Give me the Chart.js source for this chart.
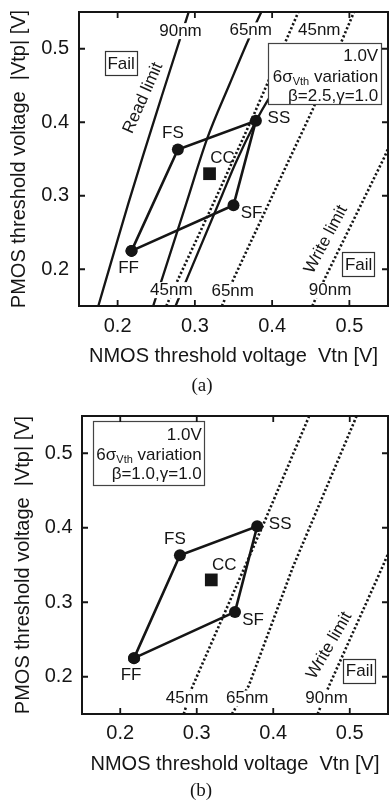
<!DOCTYPE html>
<html>
<head>
<meta charset="utf-8">
<script src="https://cdn.jsdelivr.net/npm/chart.js@4.4.0/dist/chart.umd.min.js"></script>
<style>
  html, body { margin: 0; padding: 0; background: #fff; }
  .panel { position: absolute; left: 0; width: 389px; }
  #panelA { top: 0; height: 400px; }
  #panelB { top: 400px; height: 404px; }
</style>
</head>
<body>
<div class="panel" id="panelA"><canvas id="chartA"></canvas></div>
<div class="panel" id="panelB"><canvas id="chartB"></canvas></div>
<script>
// process corners FF, FS, SS, SF (closed back to FF)
const cornerVtn = [0.218, 0.278, 0.379, 0.350, 0.218];
const cornerVtp = [0.225, 0.363, 0.402, 0.287, 0.225];
const cornerNames = ['FF', 'FS', 'SS', 'SF'];
const centerVtn = [0.319];
const centerVtp = [0.330];

// read limit, beta = 2.5
const read90Vtn = [0.175, 0.195, 0.214, 0.233, 0.257, 0.281, 0.292];
const read90Vtp = [0.150, 0.222, 0.290, 0.355, 0.435, 0.514, 0.550];
const read65Vtn = [0.246, 0.2575, 0.289, 0.316, 0.345, 0.370, 0.386];
const read65Vtp = [0.150, 0.187, 0.290, 0.378, 0.452, 0.514, 0.550];
const read45Vtn = [0.275, 0.290, 0.3353, 0.3529, 0.3788, 0.3939, 0.415, 0.435];
const read45Vtp = [0.150, 0.1876, 0.301, 0.345, 0.401, 0.429, 0.462, 0.490];

// write limit, beta = 2.5
const writeA45Vtn = [0.263, 0.279, 0.329, 0.377, 0.434];
const writeA45Vtp = [0.150, 0.188, 0.301, 0.412, 0.550];
const writeA65Vtn = [0.335, 0.351, 0.422, 0.452, 0.506];
const writeA65Vtp = [0.150, 0.189, 0.349, 0.416, 0.550];
const writeA90Vtn = [0.452, 0.468, 0.546, 0.550];
const writeA90Vtp = [0.150, 0.187, 0.354, 0.364];

// write limit, beta = 1.0
const writeB45Vtn = [0.283, 0.294, 0.386, 0.447];
const writeB45Vtp = [0.150, 0.186, 0.402, 0.550];
const writeB65Vtn = [0.346, 0.368, 0.426, 0.509];
const writeB65Vtp = [0.150, 0.188, 0.348, 0.550];
const writeB90Vtn = [0.458, 0.473, 0.543, 0.550];
const writeB90Vtp = [0.150, 0.188, 0.348, 0.365];

const FONT = "'Liberation Sans', Arial, sans-serif";
const SERIF = "'Liberation Serif', 'Times New Roman', serif";
const INK = '#151515';

function xy(xs, ys) {
  return xs.map((x, i) => ({ x, y: ys[i] }));
}

// only every other tick (0.2, 0.3, ...) carries a number
function tickText(v) {
  return Math.round(v * 100) % 10 === 0 ? v.toFixed(1) : null;
}

const decor = {
  id: 'decor',
  afterDatasetsDraw(chart, args, o) {
    const { ctx, chartArea: a } = chart;
    const sx = chart.scales.x, sy = chart.scales.y;
    const px = v => sx.getPixelForValue(v);
    const py = v => sy.getPixelForValue(v);

    ctx.save();
    ctx.beginPath();
    ctx.rect(a.left, a.top, a.width, a.height);
    ctx.clip();
    ctx.textAlign = 'center';
    ctx.textBaseline = 'middle';
    ctx.font = `17px ${FONT}`;

    // node sizes at the ends of the limit lines, on a white patch
    o.sizes.forEach(t => {
      const w = ctx.measureText(t.text).width;
      const cx = px(t.x), cy = py(t.y);
      ctx.fillStyle = '#fff';
      ctx.fillRect(cx - w / 2 - 1, cy - 8, w + 2, 16);
      ctx.fillStyle = INK;
      ctx.fillText(t.text, cx, cy);
    });

    // slanted captions beside the limits
    o.captions.forEach(c => {
      ctx.save();
      ctx.translate(px(c.x), py(c.y));
      ctx.rotate(c.angle * Math.PI / 180);
      ctx.fillStyle = INK;
      ctx.fillText(c.text, 0, 0);
      ctx.restore();
    });

    // boxed "Fail" regions
    o.fails.forEach(f => {
      const w = ctx.measureText('Fail').width + 5;
      const h = 24;
      const cx = px(f.x), cy = py(f.y);
      ctx.fillStyle = '#fff';
      ctx.fillRect(cx - w / 2, cy - h / 2, w, h);
      ctx.strokeStyle = '#333';
      ctx.lineWidth = 1.2;
      ctx.strokeRect(Math.round(cx - w / 2) + 0.5, Math.round(cy - h / 2) + 0.5, Math.round(w), h);
      ctx.fillStyle = INK;
      ctx.fillText('Fail', cx, cy + 1);
    });

    // operating condition box
    const n = o.note;
    const l = px(n.left), r = px(n.right), t = py(n.top), b = py(n.bottom);
    ctx.fillStyle = '#fff';
    ctx.fillRect(l, t, r - l, b - t);
    ctx.strokeStyle = '#444';
    ctx.lineWidth = 1.2;
    ctx.strokeRect(Math.round(l) + 0.5, Math.round(t) + 0.5, Math.round(r - l), Math.round(b - t));
    ctx.fillStyle = INK;
    ctx.textAlign = 'right';
    const rx = r - 3;
    ctx.fillText('1.0V', rx, t + 14);
    const w3 = ctx.measureText(' variation').width;
    ctx.font = `11px ${FONT}`;
    const w2 = ctx.measureText('Vth').width;
    ctx.fillText('Vth', rx - w3, t + 39);
    ctx.font = `17px ${FONT}`;
    ctx.fillText(' variation', rx, t + 34.5);
    ctx.fillText('6σ', rx - w3 - w2, t + 34.5);
    ctx.fillText(n.params, rx, t + 53.5);

    // corner names next to the plotted corners
    ctx.textAlign = 'center';
    const corners = chart.getDatasetMeta(0).data;
    cornerNames.forEach((name, i) => {
      const [dx, dy] = o.offsets[name];
      ctx.fillText(name, corners[i].x + dx, corners[i].y + dy);
    });
    const cc = chart.getDatasetMeta(1).data[0];
    ctx.fillText('CC', cc.x + o.offsets.CC[0], cc.y + o.offsets.CC[1]);
    ctx.restore();

    // frame with inward ticks on all four sides
    ctx.save();
    ctx.strokeStyle = INK;
    ctx.lineWidth = 2;
    ctx.strokeRect(a.left, a.top, a.width, a.height);
    ctx.lineWidth = 1.8;
    ctx.beginPath();
    sx.ticks.forEach(tk => {
      const x = px(tk.value);
      ctx.moveTo(x, a.bottom); ctx.lineTo(x, a.bottom - 6);
      ctx.moveTo(x, a.top); ctx.lineTo(x, a.top + 6);
    });
    sy.ticks.forEach(tk => {
      const y = py(tk.value);
      ctx.moveTo(a.left, y); ctx.lineTo(a.left + 6, y);
      ctx.moveTo(a.right, y); ctx.lineTo(a.right - 6, y);
    });
    ctx.stroke();

    // panel tag under the axis title
    ctx.fillStyle = INK;
    ctx.font = `19px ${SERIF}`;
    ctx.textAlign = 'center';
    ctx.textBaseline = 'middle';
    ctx.fillText(o.tag.text, o.tag.x, o.tag.y);
    ctx.restore();
  }
};

function cornerSets() {
  return [
    {
      data: xy(cornerVtn, cornerVtp),
      showLine: true,
      borderColor: INK,
      borderWidth: 2.6,
      pointRadius: 6,
      pointBorderWidth: 0,
      pointBackgroundColor: INK
    },
    {
      data: xy(centerVtn, centerVtp),
      pointStyle: 'rect',
      pointRadius: 9,
      pointBorderWidth: 0,
      pointBackgroundColor: INK
    }
  ];
}

function solid(xs, ys) {
  return { data: xy(xs, ys), showLine: true, borderColor: INK, borderWidth: 2.3, pointRadius: 0, cubicInterpolationMode: 'monotone' };
}

function dotted(xs, ys) {
  return { data: xy(xs, ys), showLine: true, borderColor: INK, borderWidth: 2.6, borderDash: [2.2, 2.2], pointRadius: 0 };
}

// Label gaps come from an invisible tick length rather than ticks.padding,
// so the scales add no extra padding around the plot frame.
function options(d) {
  return {
    responsive: true,
    maintainAspectRatio: false,
    animation: false,
    layout: { autoPadding: false, padding: { top: d.top, right: 1, left: 0, bottom: 0 } },
    plugins: { legend: { display: false }, tooltip: { enabled: false }, decor: d.decor },
    scales: {
      x: {
        type: 'linear', min: 0.15, max: 0.55,
        grid: { display: false, drawTicks: true, tickLength: d.xGap },
        border: { display: false },
        ticks: {
          stepSize: 0.05, autoSkip: false, maxRotation: 0, padding: 0,
          color: INK, font: { size: 20, family: FONT },
          callback: tickText
        },
        title: {
          display: true, text: 'NMOS threshold voltage  Vtn [V]',
          color: INK, font: { size: 20, family: FONT },
          padding: { top: 0, bottom: d.xTitlePad }
        },
        afterFit: s => { s.height = d.xHeight; }
      },
      y: {
        type: 'linear', min: 0.15, max: 0.55,
        grid: { display: false, drawTicks: true, tickLength: d.yGap },
        border: { display: false },
        ticks: {
          stepSize: 0.05, autoSkip: false, padding: 0,
          color: INK, font: { size: 20, family: FONT },
          callback: tickText
        },
        title: {
          display: true, text: 'PMOS threshold voltage  |Vtp| [V]',
          color: INK, font: { size: 20, family: FONT },
          padding: { top: d.yTitlePad, bottom: 0 }
        },
        afterFit: s => { s.width = d.yWidth; }
      }
    }
  };
}

const offsets = { FF: [-3, 17.5], FS: [-5, -16], SS: [23, -2], SF: [18, 8.5], CC: [13, -15] };

new Chart(document.getElementById('chartA'), {
  type: 'scatter',
  plugins: [decor],
  data: {
    datasets: [
      ...cornerSets(),
      solid(read90Vtn, read90Vtp),
      solid(read65Vtn, read65Vtp),
      solid(read45Vtn, read45Vtp),
      dotted(writeA45Vtn, writeA45Vtp),
      dotted(writeA65Vtn, writeA65Vtp),
      dotted(writeA90Vtn, writeA90Vtp)
    ]
  },
  options: options({
    top: 7, xHeight: 94, yWidth: 79, xGap: 8.7, yGap: 10, xTitlePad: 32, yTitlePad: 7.2,
    decor: {
      sizes: [
        { text: '90nm', x: 0.2814, y: 0.524 },
        { text: '65nm', x: 0.3723, y: 0.525 },
        { text: '45nm', x: 0.461, y: 0.525 },
        { text: '45nm', x: 0.2695, y: 0.1716 },
        { text: '65nm', x: 0.349, y: 0.170 },
        { text: '90nm', x: 0.475, y: 0.1716 }
      ],
      captions: [
        { text: 'Read limit', x: 0.233, y: 0.433, angle: -66 },
        { text: 'Write limit', x: 0.4697, y: 0.2405, angle: -62 }
      ],
      fails: [{ x: 0.2045, y: 0.480 }, { x: 0.512, y: 0.2072 }],
      note: { left: 0.3953, right: 0.5412, top: 0.5085, bottom: 0.4249, params: 'β=2.5,γ=1.0' },
      offsets,
      tag: { text: '(a)', x: 202, y: 386 }
    }
  })
});

new Chart(document.getElementById('chartB'), {
  type: 'scatter',
  plugins: [decor],
  data: {
    datasets: [
      ...cornerSets(),
      dotted(writeB45Vtn, writeB45Vtp),
      dotted(writeB65Vtn, writeB65Vtp),
      dotted(writeB90Vtn, writeB90Vtp)
    ]
  },
  options: options({
    top: 16, xHeight: 90, yWidth: 82, xGap: 7.3, yGap: 9.5, xTitlePad: 27.8, yTitlePad: 11,
    decor: {
      sizes: [
        { text: '45nm', x: 0.2874, y: 0.1708 },
        { text: '65nm', x: 0.366, y: 0.1708 },
        { text: '90nm', x: 0.4697, y: 0.1708 }
      ],
      captions: [
        { text: 'Write limit', x: 0.4733, y: 0.2418, angle: -60 }
      ],
      fails: [{ x: 0.5128, y: 0.208 }],
      note: { left: 0.165, right: 0.3105, top: 0.5432, bottom: 0.4577, params: 'β=1.0,γ=1.0' },
      offsets,
      tag: { text: '(b)', x: 201, y: 391.5 }
    }
  })
});
</script>
</body>
</html>
